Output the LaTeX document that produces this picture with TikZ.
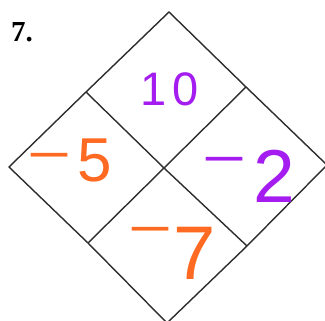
\documentclass[tikz,border=0pt]{standalone}
\usepackage{fontspec}
\setmainfont{Liberation Serif}
\newfontfamily\handfont{Liberation Sans}
\definecolor{gridline}{RGB}{45,45,45}
\definecolor{penpurple}{RGB}{164,28,240}
\definecolor{penorange}{RGB}{255,106,34}
\newcommand{\penminus}[1]{{\fontsize{52}{52}\selectfont\raisebox{#1}{\scalebox{1.45}[1]{−}}}}
\tikzset{
  edge/.style={draw=gridline, line width=1.4pt, line join=miter},
  numpurple/.style={text=penpurple, font=\handfont, inner sep=0pt, anchor=base west},
  numorange/.style={text=penorange, font=\handfont, inner sep=0pt, anchor=base west},
  label/.style={font=\bfseries\fontsize{29}{29}\selectfont, inner sep=0pt, anchor=base west}
}
\begin{document}
\begin{tikzpicture}[x=1pt,y=-1pt]
\useasboundingbox (0,0) rectangle (325,321);
\clip (0,0) rectangle (325,321);
% outer vertices
\coordinate (T) at (169,12);
\coordinate (R) at (327,165);
\coordinate (B) at (167,323);
\coordinate (L) at (9,167);
\coordinate (C) at (164,168);
% edge midpoints
\coordinate (UL) at (86,92);
\coordinate (UR) at (246,87);
\coordinate (LL) at (88,243);
\coordinate (LR) at (247,246);
% outline
\draw[edge] (T) -- (UR) -- (R) -- (LR) -- (B) -- (LL) -- (L) -- (UL) -- cycle;
% inner dividing lines
\draw[edge] (UL) -- (C) -- (LR);
\draw[edge] (UR) -- (C) -- (LL);
% problem number
\node[label] (num) at (11,42) {7.};
% handwritten values
\node[numpurple, anchor=center, font=\handfont\fontsize{47}{47}\selectfont] (ten) at (170,89) {1\hspace{6pt}0};
\node[numorange] (mfive) at (27,182) {\penminus{9pt}\hspace{6pt}{\fontsize{62}{62}\selectfont 5}};
\node[numpurple] (mtwo) at (202,203) {\penminus{26pt}\hspace{7pt}{\fontsize{75}{75}\selectfont 2}};
\node[numorange] (mseven) at (128,280) {\penminus{33pt}\hspace{1pt}{\fontsize{76}{76}\selectfont 7}};
\end{tikzpicture}
\end{document}
